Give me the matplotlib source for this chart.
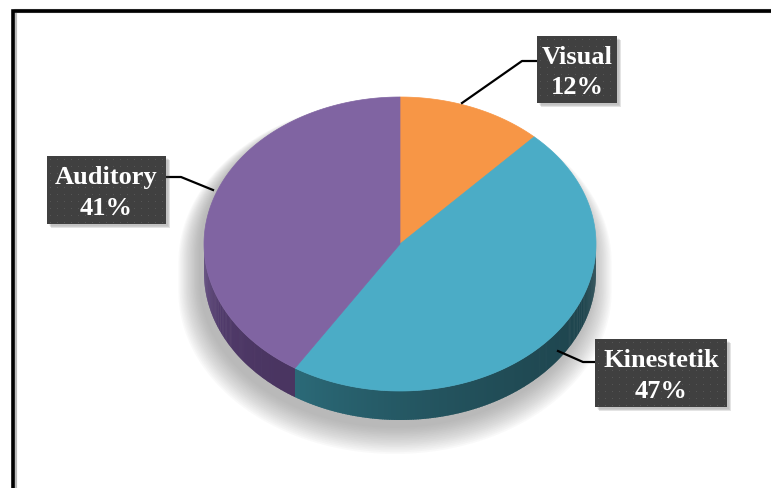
import numpy as np
import matplotlib.pyplot as plt
from matplotlib.patches import Polygon, Rectangle
from matplotlib.colors import to_rgb
from matplotlib.transforms import Affine2D

# Data
categories = ['Visual', 'Kinestetik', 'Auditory']
percents = [12, 47, 41]
top_colors = ['#F79646', '#4BACC6', '#8064A2']
side_light = ['#c97a38', '#2b6a78', '#604882']
side_dark = ['#a8642c', '#1e444d', '#4a3561']

# label box layout (pixels): left, top, width, height -- same order as categories
boxes = [(537, 37, 80, 67), (595, 340, 132, 68), (47, 157, 119, 68)]
leaders = [[(462, 104), (522, 62), (537, 62)],
           [(558, 352), (583, 363), (595, 363)],
           [(213, 191), (181, 178), (166, 178)]]

W, H = 771, 489
fig = plt.figure(figsize=(W / 100, H / 100), dpi=100)
ax = fig.add_axes([0, 0, 1, 1])
ax.set_xlim(0, W)
ax.set_ylim(H, 0)
ax.axis('off')

# pie geometry (pixel space, y down)
cx, cy, a, b, depth = 400, 245, 196, 147, 29


def pt(t, dy=0.0, sa=1.0, sb=1.0, ox=0.0, oy=0.0):
    r = np.radians(t)
    return cx + ox + a * sa * np.sin(r), cy + oy + dy - b * sb * np.cos(r)


# frame
ax.plot([14, 14, W], [H, 13, 13], color='#bbbbbb', lw=3, zorder=1,
        transform=Affine2D().translate(1, -1) + ax.transData)
ax.plot([13, 13, W], [H, 12, 12], color='black', lw=2.6, solid_joinstyle='miter', zorder=2)

# soft shadow under the pie (mostly below and to the left)
ts_top = np.linspace(-90, 90, 120)
ts_bot = np.linspace(90, 270, 120)
for k in range(16):
    s = 1 + k * 0.007
    ox, oy = -5, 8 + k * 0.7
    xs = [pt(t, 0, s, s, ox, oy)[0] for t in ts_top] + [pt(t, depth, s, s, ox, oy)[0] for t in ts_bot]
    ys = [pt(t, 0, s, s, ox, oy)[1] for t in ts_top] + [pt(t, depth, s, s, ox, oy)[1] for t in ts_bot]
    ax.add_patch(Polygon(np.column_stack([xs, ys]), closed=True, color='#777777',
                         alpha=0.04, lw=0, zorder=3))

# slice angles (clockwise from 12 o'clock)
fracs = np.array(percents) / sum(percents)
bounds = np.concatenate([[0], np.cumsum(fracs) * 360])

# side walls (front half only)
for i in range(len(percents)):
    t0, t1 = max(bounds[i], 90), min(bounds[i + 1], 270)
    if t1 <= t0:
        continue
    steps = np.linspace(t0, t1, int((t1 - t0) * 2) + 2)
    c0, c1 = np.array(to_rgb(side_dark[i])), np.array(to_rgb(side_light[i]))
    for j in range(len(steps) - 1):
        u, v = steps[j], steps[j + 1] + 0.3
        f = ((steps[j] - t0) / (t1 - t0)) ** 2
        col = c0 + (c1 - c0) * f
        quad = [pt(u), pt(v), pt(v, depth), pt(u, depth)]
        ax.add_patch(Polygon(quad, closed=True, color=col, lw=0, zorder=4))

# top faces
for i in range(len(percents)):
    ts = np.linspace(bounds[i], bounds[i + 1], 200)
    verts = [(cx, cy)] + [pt(t) for t in ts]
    ax.add_patch(Polygon(verts, closed=True, facecolor=top_colors[i], edgecolor=top_colors[i],
                         lw=0.5, zorder=5))

# leader lines
for line in leaders:
    xs, ys = zip(*line)
    ax.plot(xs, ys, color='black', lw=1.6, zorder=6)

# label boxes
for i, (x0, y0, w, h) in enumerate(boxes):
    for k in range(5):
        ax.add_patch(Rectangle((x0 + 2 + k * 0.6, y0 + 2 + k * 0.6), w, h, color='#555555',
                               alpha=0.08, lw=0, zorder=7))
    ax.add_patch(Rectangle((x0, y0), w, h, facecolor='#404040', edgecolor='none', zorder=8))
    gx = np.arange(x0 + 3, x0 + w - 1, 7)
    gy = np.arange(y0 + 3, y0 + h - 1, 7)
    GX, GY = np.meshgrid(gx, gy)
    ax.scatter(GX.ravel(), GY.ravel(), s=0.6, color='#5a5a5a', lw=0, zorder=9)
    ax.text(x0 + w / 2, y0 + h * 0.30, categories[i], ha='center', va='center',
            fontsize=19, fontweight='bold', color='white',
            family=['Liberation Serif', 'DejaVu Serif'], zorder=10)
    ax.text(x0 + w / 2, y0 + h * 0.76, f'{percents[i]}%', ha='center', va='center',
            fontsize=19, fontweight='bold', color='white',
            family=['Liberation Serif', 'DejaVu Serif'], zorder=10)

fig.savefig('out.png', dpi=100)
